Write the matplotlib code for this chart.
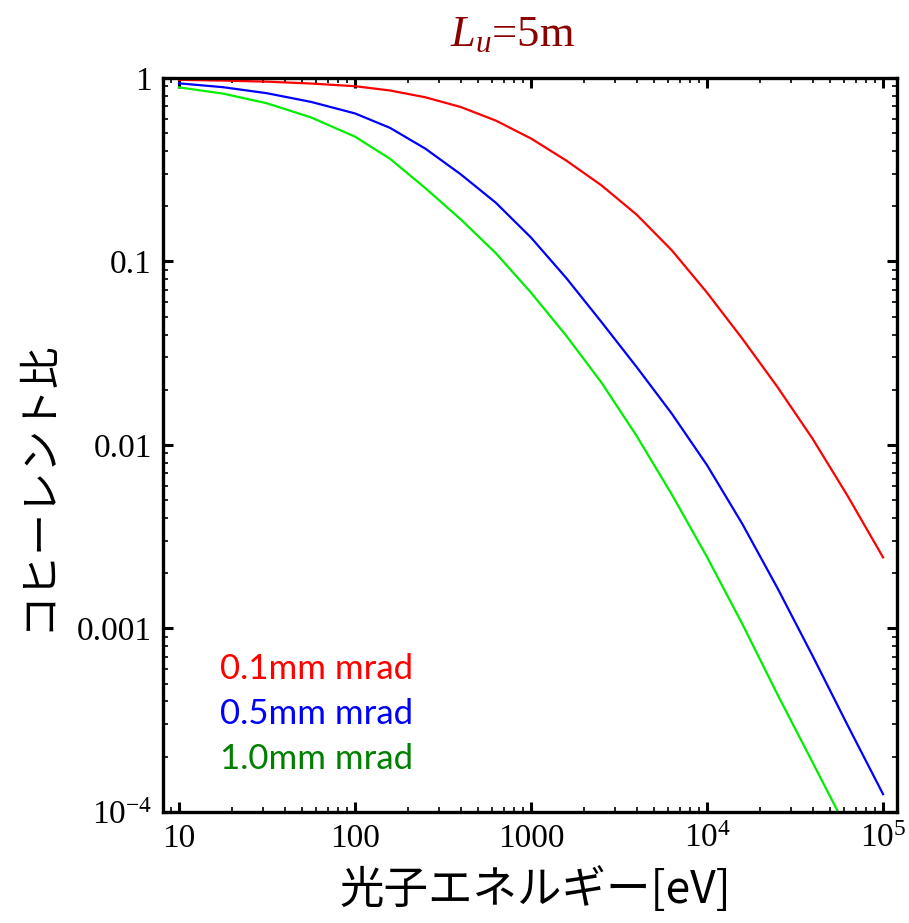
import matplotlib
matplotlib.use("Agg")
import matplotlib.pyplot as plt
from matplotlib.ticker import FixedLocator, FixedFormatter, LogLocator, NullFormatter

# values (photon energy [eV], coherent fraction)
energy = [10, 17.8, 31.6, 56.2, 100, 158, 251, 398, 631, 1000, 1585, 2512,
          3981, 6310, 10000, 15850, 25120, 39810, 63100, 100000]
ratio_01 = [0.977, 0.968, 0.955, 0.933, 0.902, 0.855, 0.785, 0.695, 0.586, 0.468,
            0.355, 0.260, 0.180, 0.115, 0.0676, 0.0380, 0.0207, 0.0108, 0.00525,
            0.00244]
ratio_05 = [0.935, 0.891, 0.826, 0.741, 0.641, 0.535, 0.412, 0.299, 0.209, 0.135,
            0.0813, 0.0468, 0.0266, 0.0148, 0.00776, 0.00372, 0.00166, 0.000708,
            0.000295, 0.000125]

energy_10 = [10, 17.8, 31.6, 56.2, 100, 158, 251, 398, 631, 1000, 1585, 2512,
             3981, 6310, 10000, 15850, 25120, 39810, 56230]
ratio_10 = [0.889, 0.822, 0.728, 0.610, 0.479, 0.363, 0.251, 0.170, 0.111, 0.0676,
            0.0394, 0.0219, 0.0112, 0.00537, 0.00245, 0.00106, 0.000437, 0.000186,
            0.0000977]

labels = ["0.1mm mrad", "0.5mm mrad", "1.0mm mrad"]
line_colors = ["#ff0000", "#0000ff", "#00ee00"]
text_colors = ["#ff0000", "#0000ff", "#008000"]

x_ticks = [10, 100, 1000, 1e4, 1e5]
x_ticklabels = ["10", "100", "1000", r"$10^{4}$", r"$10^{5}$"]
y_ticks = [1e-4, 1e-3, 1e-2, 1e-1, 1]
y_ticklabels = [r"$10^{-4}$", "0.001", "0.01", "0.1", "1"]

plt.rcParams["mathtext.fontset"] = "custom"
plt.rcParams["mathtext.rm"] = "Liberation Serif"
plt.rcParams["mathtext.it"] = "Liberation Serif:italic"
cjk = ["Noto Sans CJK JP", "DejaVu Sans"]

fig = plt.figure(figsize=(9.09, 9.23), dpi=100)
ax = fig.add_axes([0.1793, 0.1203, 0.8075, 0.7952])

for e, r, c in zip([energy, energy, energy_10],
                   [ratio_01, ratio_05, ratio_10], line_colors):
    ax.plot(e, r, color=c, lw=1.6, solid_joinstyle="round")

ax.set_xscale("log")
ax.set_yscale("log")
ax.set_xlim(8.11, 1.2e5)
ax.set_ylim(1e-4, 1)

ax.xaxis.set_major_locator(FixedLocator(x_ticks))
ax.xaxis.set_major_formatter(FixedFormatter(x_ticklabels))
ax.yaxis.set_major_locator(FixedLocator(y_ticks))
ax.yaxis.set_major_formatter(FixedFormatter(y_ticklabels))
for axis in (ax.xaxis, ax.yaxis):
    axis.set_minor_locator(LogLocator(base=10, subs=range(2, 10), numticks=20))
    axis.set_minor_formatter(NullFormatter())

for s in ax.spines.values():
    s.set_linewidth(2.4)
ax.tick_params(which="both", direction="in", top=True, right=True)
ax.tick_params(which="major", length=7, width=2.2, pad=8,
               labelsize=24, labelfontfamily="Liberation Serif")
ax.tick_params(which="minor", length=3.5, width=1.2)

# legend-like labels
for i, (lab, c) in enumerate(zip(labels, text_colors)):
    ax.text(0.078, 0.195 - i * 0.0613, lab, color=c, fontsize=25,
            family="Lato", transform=ax.transAxes, va="center", ha="left")

fig.text(0.564, 0.962, r"$L_u$=5m", color="#8b0000", fontsize=32,
         family="Liberation Serif", ha="center", va="center")
fig.text(0.5886, 0.036, "光子エネルギー[eV]", fontsize=32, family=cjk,
         ha="center", va="center")
fig.text(0.042, 0.4745, "コヒーレント比", fontsize=30, family=cjk,
         rotation=90, ha="center", va="center")

fig.savefig("out.png", dpi=100)
